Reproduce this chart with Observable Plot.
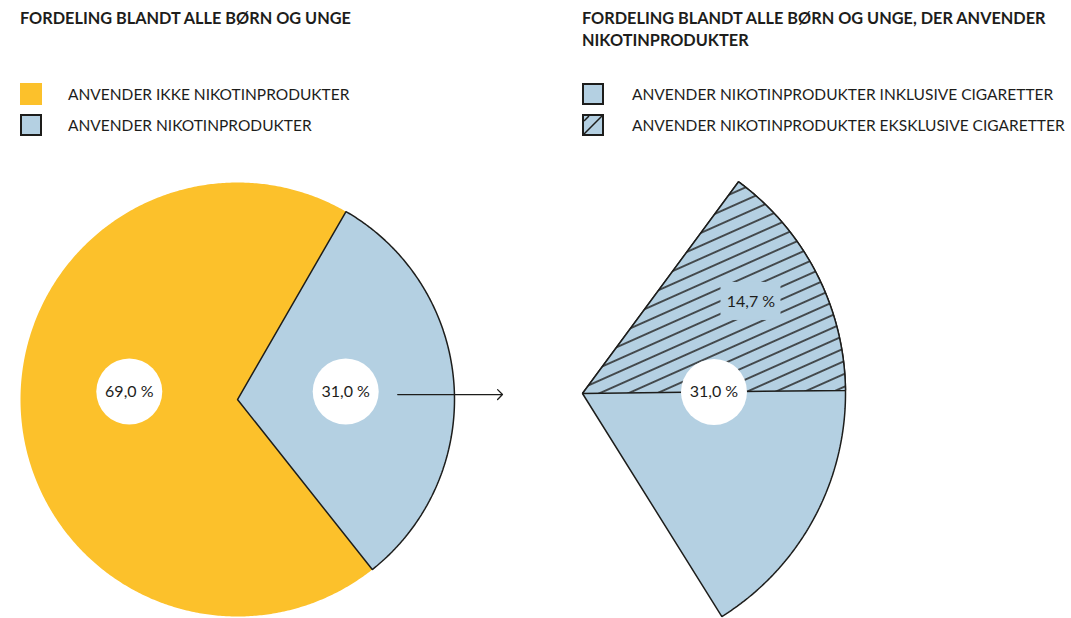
<!DOCTYPE html>
<html><head><meta charset="utf-8">
<script src="https://cdn.jsdelivr.net/npm/d3@7"></script>
<script src="https://cdn.jsdelivr.net/npm/@observablehq/plot@0.6"></script>
<style>
html,body{margin:0;padding:0;background:#fff;}
body{width:1071px;height:618px;overflow:hidden;font-family:Lato,"Noto Sans",sans-serif;color:#1d1d1b;}
#header{position:relative;height:150px;}
.t{position:absolute;white-space:nowrap;line-height:20px;}
.title{font-weight:700;font-size:16.3px;line-height:21.7px;}
.leg{font-size:15.5px;font-weight:400;}
.sw{position:absolute;width:22px;height:22px;box-sizing:border-box;}
#chart svg{display:block;}
</style></head><body>
<div id="header"></div>
<div id="chart"></div>
<script>
// ---- data ----
const overallTitle = "FORDELING BLANDT ALLE BØRN OG UNGE";
const userTitle = ["FORDELING BLANDT ALLE BØRN OG UNGE, DER ANVENDER", "NIKOTINPRODUKTER"];
const overallCategories = ["ANVENDER IKKE NIKOTINPRODUKTER", "ANVENDER NIKOTINPRODUKTER"];
const overallShares = [69.0, 31.0];
const userCategories = ["ANVENDER NIKOTINPRODUKTER INKLUSIVE CIGARETTER", "ANVENDER NIKOTINPRODUKTER EKSKLUSIVE CIGARETTER"];
const userShares = [31.0, 14.7];

// ---- style / layout ----
const YELLOW = "#fcc12b", BLUE = "#b4d0e2", HATCHKEY = "#b4d0e3", INK = "#1d1d1b";
const W = 1071, H = 468;
const L = {cx: 237, cy: 249, r: 217, start: 30};
const R = {cx: 582, cy: 243, r: 263, start: 36.4};
const fmt = v => v.toFixed(1).replace(".", ",") + " %";
const deg = 360 / 100;

// ---- header (titles + legends) ----
const header = document.getElementById("header");
function addText(cls, text, left, baseline, lh) {
  const d = document.createElement("div");
  d.className = "t " + cls;
  d.textContent = text;
  d.style.left = left + "px";
  d.style.top = (baseline - lh) + "px";
  header.appendChild(d);
}
addText("title", overallTitle, 20, 25, 17.6);
addText("title", userTitle[0], 582, 25, 17.6);
addText("title", userTitle[1], 582, 46.7, 17.6);
function addSwatch(left, top, fill, border, hatch) {
  const d = document.createElement("div");
  d.className = "sw";
  d.style.left = left + "px"; d.style.top = top + "px";
  d.style.background = fill;
  if (border) d.style.border = "2px solid " + INK;
  if (hatch) d.innerHTML = `<svg width="18" height="18" style="display:block"><path d="M0,18L18,0M0,5L5,0" stroke="${INK}" stroke-width="1.5"/></svg>`;
  header.appendChild(d);
}
addSwatch(20, 82.5, YELLOW, false, false);
addSwatch(20, 113.5, BLUE, true, false);
addSwatch(582, 82.5, BLUE, true, false);
addSwatch(582, 113.5, BLUE, true, true);
addText("leg", overallCategories[0], 68, 100, 16);
addText("leg", overallCategories[1], 68, 130.5, 16);
addText("leg", userCategories[0], 632, 100, 16);
addText("leg", userCategories[1], 632, 130.5, 16);

// ---- geometry from data ----
const rad = a => a * Math.PI / 180;
const pt = (c, rr, a) => ({x: c.cx + rr * Math.sin(rad(a)), y: c.cy - rr * Math.cos(rad(a))});
function wedge(id, c, a0, a1) {
  const pts = [{id, ...pt(c, 0, 0)}];
  const n = Math.max(2, Math.ceil((a1 - a0) / 0.5));
  for (let i = 0; i <= n; i++) pts.push({id, ...pt(c, c.r, a0 + (a1 - a0) * i / n)});
  return pts;
}
// left pie: nicotine users first, clockwise from start angle
const blueA0 = L.start, blueA1 = L.start + overallShares[1] * deg;
const yellowA0 = blueA1, yellowA1 = blueA1 + overallShares[0] * deg;
const yellowPts = wedge("ikke", L, yellowA0, yellowA1);
const bluePts = wedge("nikotin", L, blueA0, blueA1);
// right wedge
const inkA0 = R.start, inkA1 = R.start + userShares[0] * deg;
const eksA0 = R.start, eksA1 = R.start + userShares[1] * deg;
const inkPts = wedge("inklusive", R, inkA0, inkA1);
const eksPts = wedge("eksklusive", R, eksA0, eksA1);

const blueMid = (blueA0 + blueA1) / 2;
const circleLabels = [
  {...pt(L, L.r * 0.5, 360 - blueMid), label: fmt(overallShares[0])},
  {...pt(L, L.r * 0.5, blueMid), label: fmt(overallShares[1])},
  {...pt(R, R.r * 0.5, eksA1), label: fmt(userShares[0])}
];
const eksLabel = {...pt(R, R.r * 0.73, (eksA0 + eksA1) / 2 - 1.5), label: fmt(userShares[1])};
const arrow = [{x1: circleLabels[1].x + 52, x2: R.cx - 80, y: circleLabels[1].y + 3}];

const plot = Plot.plot({
  width: W, height: H, margin: 0,
  x: {domain: [0, W], range: [0, W], axis: null},
  y: {domain: [0, H], range: [0, H], axis: null},
  style: {background: "transparent", fontFamily: "Lato, sans-serif"},
  marks: [
    Plot.line(yellowPts, {x: "x", y: "y", z: "id", fill: YELLOW, stroke: "none", curve: "linear-closed"}),
    Plot.line(bluePts, {x: "x", y: "y", z: "id", fill: BLUE, stroke: INK, strokeWidth: 1.5, curve: "linear-closed", strokeLinejoin: "miter"}),
    Plot.line(inkPts, {x: "x", y: "y", z: "id", fill: BLUE, stroke: INK, strokeWidth: 1.5, curve: "linear-closed", strokeLinejoin: "miter"}),
    Plot.line(eksPts, {x: "x", y: "y", z: "id", fill: HATCHKEY, stroke: INK, strokeWidth: 1.5, curve: "linear-closed", strokeLinejoin: "miter"}),
    Plot.dot(circleLabels, {x: "x", y: "y", r: 33, fill: "white", stroke: "none"}),
    Plot.text(circleLabels, {x: "x", y: "y", text: "label", fontSize: 16, fill: INK}),
    Plot.rect([eksLabel], {x1: d => d.x - 30, x2: d => d.x + 30, y1: d => d.y - 19, y2: d => d.y + 19, fill: BLUE}),
    Plot.text([eksLabel], {x: "x", y: "y", text: "label", fontSize: 16, fill: INK}),
    Plot.arrow(arrow, {x1: "x1", x2: "x2", y1: "y", y2: "y", stroke: INK, strokeWidth: 1.3, headLength: 8, headAngle: 90})
  ]
});
document.getElementById("chart").appendChild(plot);

// hatch pattern for "eksklusive"
const svg = d3.select(plot);
const gap = 11.7, ang = -24;
const defs = svg.insert("defs", ":first-child");
const pat = defs.append("pattern").attr("id", "hatch")
  .attr("patternUnits", "userSpaceOnUse").attr("width", 40).attr("height", gap)
  .attr("patternTransform", `translate(${R.cx + 21},${R.cy - 2}) rotate(${ang})`);
pat.append("rect").attr("width", 40).attr("height", gap).attr("fill", BLUE);
pat.append("path").attr("d", `M0,0H40M0,${gap}H40`).attr("stroke", INK).attr("stroke-width", 1.4);
svg.selectAll(`[fill="${HATCHKEY}"]`).attr("fill", "url(#hatch)");
</script></body></html>
